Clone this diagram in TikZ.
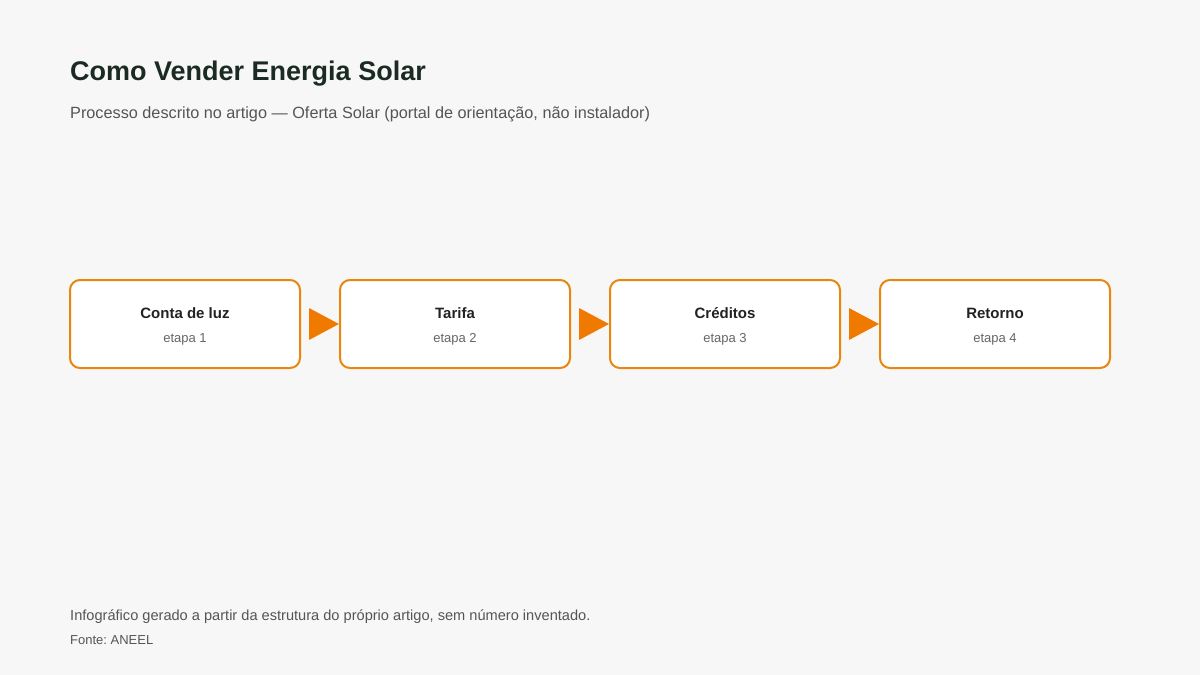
\documentclass[tikz,border=0pt]{standalone}
\usepackage{fontspec}
\setmainfont{Liberation Sans}
\usetikzlibrary{calc}
\frenchspacing
\definecolor{bg}{HTML}{F7F7F7}
\definecolor{titlec}{HTML}{1B2A22}
\definecolor{subc}{HTML}{555555}
\definecolor{boxline}{HTML}{E8860F}
\definecolor{arrowc}{HTML}{F07A00}
\definecolor{steptxt}{HTML}{222222}
\definecolor{etapac}{HTML}{666666}
\tikzset{
  stepbox/.style={draw=boxline, line width=2pt, fill=white, rounded corners=10pt,
    minimum width=230pt, minimum height=88pt, inner sep=0pt},
  steptitle/.style={font=\fontsize{15}{18}\selectfont\bfseries, text=steptxt, anchor=base, inner sep=0pt},
  stepsub/.style={font=\fontsize{13}{16}\selectfont, text=etapac, anchor=base, inner sep=0pt},
  flowarrow/.style={fill=arrowc},
}
\begin{document}
\begin{tikzpicture}[x=1pt,y=1pt]
\fill[bg] (0,0) rectangle (1200,-675);
\useasboundingbox (0,0) rectangle (1200,-675);
\node[anchor=base west, inner sep=0pt, text=titlec, font=\fontsize{27}{32}\selectfont\bfseries] (title) at (70,-80) {Como Vender Energia Solar};
\node[anchor=base west, inner sep=0pt, text=subc, font=\fontsize{16.25}{20}\selectfont] (sub) at (70,-118) {Processo descrito no artigo — Oferta Solar (portal de orientação, não instalador)};
\node[stepbox] (b1) at (185,-324) {};
\node[stepbox] (b2) at (455,-324) {};
\node[stepbox] (b3) at (725,-324) {};
\node[stepbox] (b4) at (995,-324) {};
\node[steptitle] (t1) at (185,-318) {Conta de luz};
\node[stepsub] (s1) at (185,-342) {etapa 1};
\node[steptitle] (t2) at (455,-318) {Tarifa};
\node[stepsub] (s2) at (455,-342) {etapa 2};
\node[steptitle] (t3) at (725,-318) {Créditos};
\node[stepsub] (s3) at (725,-342) {etapa 3};
\node[steptitle] (t4) at (995,-318) {Retorno};
\node[stepsub] (s4) at (995,-342) {etapa 4};
\fill[flowarrow] ($(b1.east)+(8,16)$) -- ($(b1.east)+(8,-16)$) -- (b2.west) -- cycle;
\fill[flowarrow] ($(b2.east)+(8,16)$) -- ($(b2.east)+(8,-16)$) -- (b3.west) -- cycle;
\fill[flowarrow] ($(b3.east)+(8,16)$) -- ($(b3.east)+(8,-16)$) -- (b4.west) -- cycle;
\node[anchor=base west, inner sep=0pt, text=subc, font=\fontsize{14.6}{17}\selectfont] (foot1) at (70,-620) {Infográfico gerado a partir da estrutura do próprio artigo, sem número inventado.};
\node[anchor=base west, inner sep=0pt, text=subc, font=\fontsize{13}{16}\selectfont] (foot2) at (70,-644) {Fonte: ANEEL};
\end{tikzpicture}
\end{document}
